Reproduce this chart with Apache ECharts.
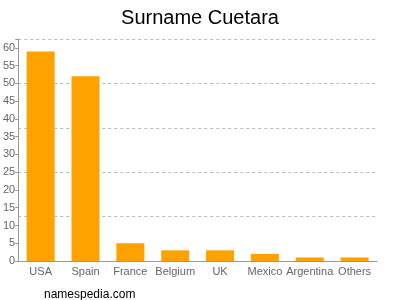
<!DOCTYPE html>
<html><head><meta charset="utf-8">
<script src="https://cdn.jsdelivr.net/npm/echarts@6/dist/echarts.min.js"></script>
<style>html,body{margin:0;padding:0;background:#fff}#c{width:400px;height:300px}</style>
</head><body><div id="c"></div>
<script>
var categories = ['USA','Spain','France','Belgium','UK','Mexico','Argentina','Others'];
var values = [59,52,5,3,3,2,1,1];
var yMax = 62.5;

var chart = echarts.init(document.getElementById('c'));
chart.setOption({
  animation:false,
  textStyle:{fontFamily:'Liberation Sans, Arial, sans-serif'},
  title:[{text:'Surname Cuetara',left:'center',top:3,textStyle:{fontSize:20,fontWeight:'normal',color:'#000',fontFamily:'Liberation Sans, Arial, sans-serif'}},
         {text:'namespedia.com',left:39,top:284,textStyle:{fontSize:12,fontWeight:'normal',color:'#000',fontFamily:'Liberation Sans, Arial, sans-serif'}}],
  grid:{left:17,right:23,top:39,bottom:39,containLabel:false},
  xAxis:{type:'category',data:categories,
    axisLine:{lineStyle:{color:'#999'}},
    axisTick:{alignWithLabel:true,length:4,lineStyle:{color:'#999'}},
    axisLabel:{color:'#666',fontSize:11,margin:5,interval:0}},
  yAxis:[{type:'value',min:0,max:yMax,interval:5,
    axisLine:{show:true,lineStyle:{color:'#999'}},
    axisTick:{show:true,length:3,lineStyle:{color:'#999'}},
    axisLabel:{color:'#666',fontSize:11,margin:3,formatter:function(v){return v%5===0?v:'';}},
    splitLine:{show:false}},
   {type:'value',min:0,max:yMax,interval:12.5,position:'left',
    axisLine:{show:false},axisTick:{show:false},axisLabel:{show:false},
    splitLine:{show:true,lineStyle:{color:'#bbb',type:[3,3],width:1}}}],
  series:[{type:'bar',data:values,barWidth:28,yAxisIndex:0,
    itemStyle:{color:'#FFA200'},
    z:3}]
});
</script></body></html>
